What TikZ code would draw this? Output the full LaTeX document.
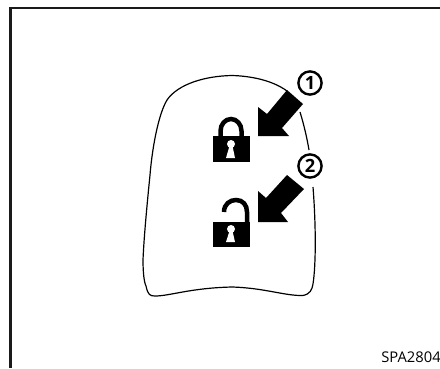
\documentclass[tikz,border=0pt]{standalone}
\usepackage{fontspec}
\setsansfont{Open Sans}
\usepackage{xcolor}
\definecolor{frameColor}{HTML}{1A1A1A}

\begin{document}
\begin{tikzpicture}[
    x=0.025cm, y=-0.025cm,
    frameline/.style={frameColor, line width=1.5pt},
    outline/.style={black, line width=0.85pt},
    solid/.style={fill=black, draw=none},
    hole/.style={fill=white, draw=none},
    shackle/.style={black, line width=3.2pt},
    callout/.style={circle, draw, line width=1.7pt, minimum size=0.58cm, inner sep=0pt, font=\sffamily\bfseries\fontsize{13}{13}\selectfont},
]
\useasboundingbox (0,0) rectangle (440,368);

% Frame
\draw[frameline] (10.5,368) -- (10.5,8) -- (440,8);

% Fob outline
\draw[outline] (287,91) .. controls (272,80) and (250,76) .. (232,75.5)
    .. controls (205,76) and (178,84) .. (167,100)
    .. controls (158,115) and (152,150) .. (150,175)
    .. controls (148,195) and (144,235) .. (143,260)
    .. controls (143,272) and (144,282) .. (146,286)
    .. controls (148,295) and (150,296) .. (155,296)
    .. controls (170,296) and (190,288) .. (232,287)
    .. controls (265,288) and (285,296) .. (303,295.5)
    .. controls (310,294) and (312,290) .. (313,284)
    .. controls (316,265) and (316,225) .. (313,187);
\draw[outline] (300,112) .. controls (304,125) and (307,138) .. (309,150);

% Closed lock
\draw[shackle] (220.5,137) -- (220.5,131) arc[start angle=180, end angle=0, x radius=10.5, y radius=-12] -- (241.5,137);
\fill[solid] (213,136) rectangle (250,162);
\fill[hole] (231,144) circle (4);
\fill[hole] (229.5,146) -- (232.5,146) -- (235,158) -- (226,158) -- cycle;

% Open lock
\draw[shackle] (224,212) .. controls (224,204) and (230,200) .. (236,200)
    .. controls (243,200) and (247,205) .. (247,212) -- (247,223);
\fill[solid] (213,222) rectangle (250,247);
\fill[hole] (231,229) circle (4);
\fill[hole] (229.5,231) -- (232.5,231) -- (235,242) -- (226,242) -- cycle;

% Arrows
\fill[solid] (258,136) -- (258,107) -- (267,114) -- (287,90) -- (303,104) -- (282,128) -- (289,136) -- cycle;
\fill[solid] (258,222) -- (258,191) -- (266,198) -- (287,175) -- (304,189) -- (281,213) -- (288,222) -- cycle;

% Callouts
\node[callout] (one) at (310,83) {1};
\node[callout] (two) at (310,166) {2};

% Code
\node[anchor=base east, inner sep=0pt, font=\sffamily\fontsize{10.5}{10.5}\selectfont] (code) at (441,362) {SPA2804};
\end{tikzpicture}
\end{document}
